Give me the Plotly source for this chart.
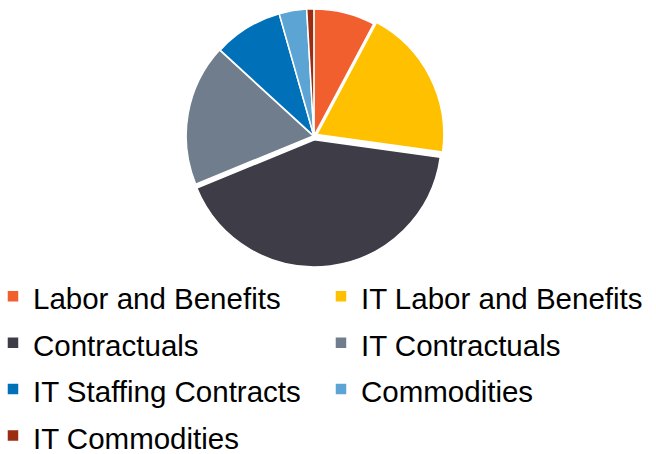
import plotly.graph_objects as go

# Budget share by spending category (percent)
categories = [
    "Labor and Benefits",
    "IT Labor and Benefits",
    "Contractuals",
    "IT Contractuals",
    "IT Staffing Contracts",
    "Commodities",
    "IT Commodities",
]
shares = [7.8, 19.4, 41.6, 18.0, 8.8, 3.5, 0.9]
colors = ["#F15F2E", "#FFC000", "#3D3C47", "#6F7D8C", "#0070B8", "#5BA4D4", "#9B2D10"]
pulls = [0.0, 0.025, 0.03, 0.005, 0.0, 0.0, 0.0]

# legend text size; the legend font size itself sets the row pitch
label_font = 29.5
legend_labels = [
    f"<span style='font-size:{label_font}px'>{c}</span>" for c in categories
]

fig = go.Figure(
    go.Pie(
        labels=legend_labels,
        values=shares,
        sort=False,
        direction="clockwise",
        rotation=0,
        pull=pulls,
        textinfo="none",
        hoverinfo="label+percent",
        marker=dict(colors=colors, line=dict(color="white", width=1.5)),
        domain=dict(x=[0, 0.957], y=[0.004, 0.981]),
    )
)

fig.update_layout(
    width=656,
    height=454,
    margin=dict(l=0, r=0, t=0, b=186, autoexpand=False),
    paper_bgcolor="white",
    plot_bgcolor="white",
    font=dict(family="Liberation Sans, Arial, sans-serif", color="black"),
    showlegend=True,
    legend=dict(
        orientation="h",
        x=-0.0107,
        xanchor="left",
        y=0,
        yanchor="top",
        entrywidth=283,
        entrywidthmode="pixels",
        font=dict(size=33.4),
        maxheight=400,
        itemclick=False,
        traceorder="normal",
    ),
)

fig.write_html("out.html")
